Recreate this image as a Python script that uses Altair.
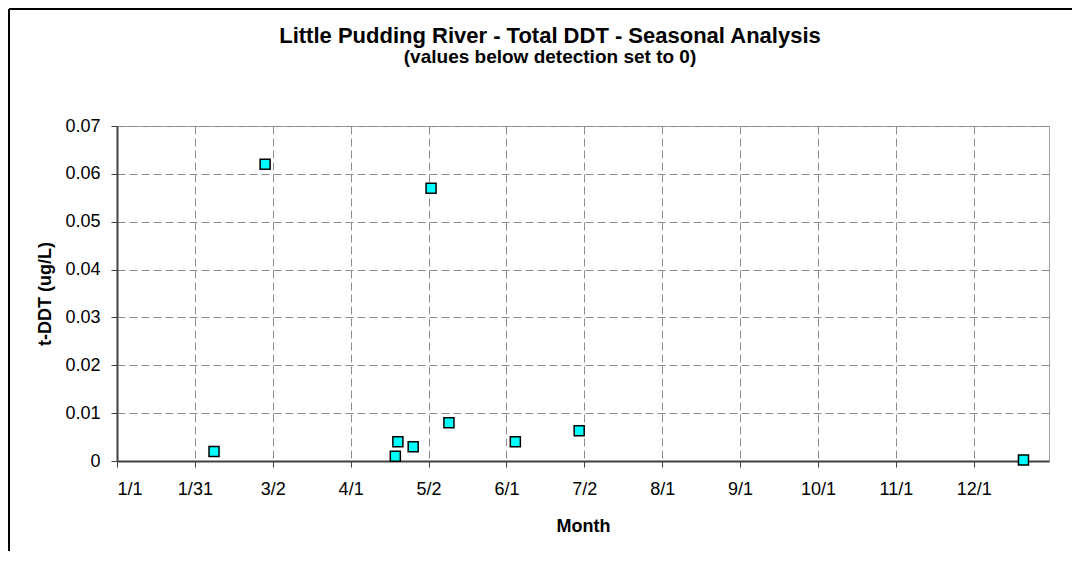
import altair as alt
import pandas as pd

# Sample day (days after Jan 1) and total DDT (ug/L)
day_of_year = [38, 58, 109, 110, 116, 123, 130, 156, 181, 355]
tddt = [0.002, 0.062, 0.001, 0.004, 0.003, 0.057, 0.008, 0.004, 0.0063, 0.0002]

# Axis ticks
tick_step = 30.5
tick_labels = ["1/1", "1/31", "3/2", "4/1", "5/2", "6/1", "7/2", "8/1", "9/1", "10/1", "11/1", "12/1"]
tick_days = [i * tick_step for i in range(len(tick_labels))]
y_ticks = [0, 0.01, 0.02, 0.03, 0.04, 0.05, 0.06, 0.07]

df = pd.DataFrame({"day": day_of_year, "tddt": tddt})

FONT = "Liberation Sans, Arial, sans-serif"
label_js = "[" + ",".join("'" + s + "'" for s in tick_labels) + "]"

points = alt.Chart(df).mark_point(
    shape="square", filled=True, fill="#00FFFF", stroke="#000000",
    strokeWidth=1.5, size=100, opacity=1
).encode(
    x=alt.X("day:Q",
            scale=alt.Scale(domain=[0, 365], nice=False, zero=False),
            axis=alt.Axis(values=tick_days,
                          labelExpr=label_js + "[round(datum.value / " + str(tick_step) + ")]",
                          title="Month")),
    y=alt.Y("tddt:Q",
            scale=alt.Scale(domain=[0, 0.07], nice=False),
            axis=alt.Axis(values=y_ticks, format=".2~f", title="t-DDT (ug/L)")),
)

frame_data = alt.Data(values=[{}])
left_rule = alt.Chart(frame_data).mark_rule(color="#000000", strokeWidth=2).encode(
    x=alt.value(-108), y=alt.value(-117), y2=alt.value(425)
)
top_rule = alt.Chart(frame_data).mark_rule(color="#000000", strokeWidth=2).encode(
    y=alt.value(-117), x=alt.value(-108), x2=alt.value(955)
)

chart = alt.layer(left_rule, top_rule, points).properties(
    width=932,
    height=335,
    padding=0,
    title=alt.Title(
        "Little Pudding River - Total DDT - Seasonal Analysis",
        subtitle="(values below detection set to 0)",
        anchor="middle",
        dx=-33,
        offset=-60,
        font=FONT, fontSize=22, fontWeight="bold", color="#000000",
        subtitleFont=FONT, subtitleFontSize=19, subtitleFontWeight="bold",
        subtitleColor="#000000", subtitlePadding=0,
    ),
).configure_view(
    stroke="#a0a0a0", strokeWidth=1
).configure_axis(
    labelFont=FONT, labelFontSize=18, labelColor="#000000",
    titleFont=FONT, titleFontSize=18, titleFontWeight="bold", titleColor="#000000",
    domainColor="#404040", domainWidth=2,
    tickColor="#404040", tickSize=6, tickWidth=1,
    grid=True, gridColor="#8c8c8c", gridDash=[8, 4], gridWidth=1,
).configure_axisX(
    labelPadding=13, titlePadding=19,
).configure_axisY(
    labelPadding=11, titlePadding=10,
)

chart.save("out.html", embed_options={"renderer": "svg", "actions": False})
